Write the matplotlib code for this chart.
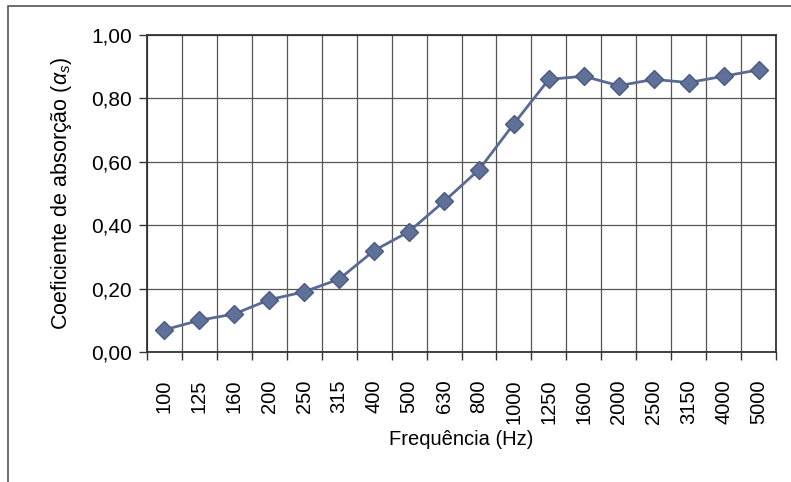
import numpy as np
import matplotlib.pyplot as plt
from matplotlib.patches import Rectangle

plt.rcParams['font.family'] = ['Liberation Sans', 'DejaVu Sans']
plt.rcParams['mathtext.fontset'] = 'custom'
plt.rcParams['mathtext.rm'] = 'Liberation Sans'
plt.rcParams['mathtext.it'] = 'Liberation Sans:italic'

freqs = ['100', '125', '160', '200', '250', '315', '400', '500', '630', '800',
         '1000', '1250', '1600', '2000', '2500', '3150', '4000', '5000']
alpha = [0.07, 0.10, 0.12, 0.165, 0.19, 0.23, 0.32, 0.38, 0.475, 0.575,
         0.72, 0.86, 0.87, 0.84, 0.86, 0.85, 0.87, 0.89]
yticks = [0.0, 0.2, 0.4, 0.6, 0.8, 1.0]

fig = plt.figure(figsize=(7.91, 4.82), dpi=100)
# outer chart frame
fig.patches.append(Rectangle((8 / 791, -0.01), 1.2, 1 - 6 / 482 + 0.01,
                             transform=fig.transFigure, fill=False,
                             edgecolor='#555555', linewidth=1.2))

ax = fig.add_axes([147 / 791, 130 / 482, 629 / 791, 317 / 482])
x = np.arange(len(freqs))
ax.plot(x, alpha, color='#5a6a95', linewidth=2, marker='D', markersize=9.5,
        markerfacecolor='#5f7099', markeredgecolor='#4a5a82', zorder=3)

ax.set_xlim(-0.5, len(freqs) - 0.5)
ax.set_ylim(0, 1)
ax.set_xticks(x)
ax.set_xticklabels(freqs, rotation=90, fontsize=14.5)
ax.set_xticks(np.arange(len(freqs) + 1) - 0.5, minor=True)
ax.tick_params(axis='x', which='major', length=0, pad=20)
ax.tick_params(axis='x', which='minor', length=6, width=1, color='#333333')
ax.set_yticks(yticks)
ax.set_yticklabels([f'{v:.2f}'.replace('.', ',') for v in yticks], fontsize=15)
ax.tick_params(axis='y', length=6, width=1, color='#333333', pad=5)

ax.grid(True, axis='y', which='major', color='#555555', linewidth=0.9)
ax.grid(True, axis='x', which='minor', color='#555555', linewidth=0.9)
for s in ax.spines.values():
    s.set_color('#333333')
    s.set_linewidth(1.3)

ax.set_xlabel('Frequência (Hz)', fontsize=14.5, labelpad=4)
ax.set_ylabel(r'Coeficiente de absorção ($\alpha_s$)', fontsize=15.5, labelpad=12)

fig.savefig('out.png', dpi=100)
